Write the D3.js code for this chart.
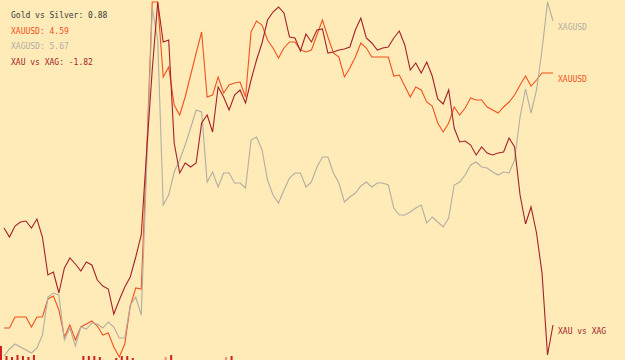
<!DOCTYPE html>
<html>
<head>
<meta charset="utf-8">
<script src="https://cdn.jsdelivr.net/npm/d3@7"></script>
<style>
  html, body { margin: 0; padding: 0; background: #feebb8; }
  svg { display: block; }
</style>
</head>
<body>
<script>
// scaled values (0 = bottom of window, 360 = top), one per trading day
var xauxag = [132,123,134,138,139,132,141,123,85,88,
  67,92,102,96,89,98,95,80,74,71,
  46,60,73,83,103,125,210,290,358,318,
  320,217,187,197,193,197,237,245,228,273,
  263,250,265,270,257,280,300,317,340,348,
  353,347,323,322,309,326,318,330,331,307,
  308,310,311,313,330,342,322,317,310,312,
  313,322,329,315,290,297,287,298,284,261,
  256,270,232,218,219,215,205,213,207,205,
  207,208,222,213,165,136,153,127,87,5,35]
var xauusd = [32,32,43,43,43,33,43,43,61,64,
  50,23,35,20,33,36,39,34,25,27,
  13,3,16,54,72,71,210,358,358,283,
  293,255,245,263,285,307,328,263,265,283,
  267,275,277,278,263,328,339,335,320,312,
  302,312,318,318,310,308,310,325,340,323,
  307,303,283,292,303,317,312,303,303,303,
  303,284,285,274,263,273,270,258,254,237,
  228,237,253,245,252,262,260,260,253,250,
  247,253,258,265,275,284,274,280,287,287,287]
var xagusd = [4,11,16,13,10,7,12,25,63,67,
  65,20,32,14,33,31,37,36,32,38,
  33,22,22,55,63,45,195,352,320,155,
  165,188,200,215,232,250,248,178,188,173,
  187,187,177,177,172,220,223,210,180,165,
  157,170,182,187,187,173,178,193,203,203,
  187,177,158,163,167,174,178,173,177,177,
  175,152,145,145,148,152,155,137,143,138,
  133,142,175,178,185,195,198,193,192,188,
  185,188,187,200,243,271,247,270,310,358,339]
// small spread bars along the bottom (index, value)
var spreadIdx = [0,1,2,3,4,5,6,15,16,17,18,21,22,23,24,30,31,41,42]
var spreadVal = [14,4,3,5,4,3,5,4,4,4,3,2,4,4,2,-3,5,-3,4]

var seriesNames = ["XAUUSD", "XAGUSD", "XAU vs XAG"]
var seriesColors = ["#f2521f", "#b3ada3", "#a3222a"]
var statLabels = ["Gold vs Silver: 0.88", "XAUUSD: 4.59", "XAGUSD: 5.67", "XAU vs XAG: -1.82"]
var statColors = ["#3a3a3a", "#f2521f", "#b3ada3", "#a3222a"]

var width = 625, height = 360

var svg = d3.select("body").append("svg")
  .attr("width", width)
  .attr("height", height)

svg.append("rect").attr("width", width).attr("height", height).attr("fill", "#feebb8")

var x = d3.scaleLinear().domain([0, xauusd.length - 1]).range([4, 553])
var y = d3.scaleLinear().domain([0, 360]).range([height, 0])
var barH = d3.scaleLinear().domain([0, 14]).range([0, 14])

// bottom bars
svg.selectAll("rect.bar").data(spreadIdx).enter()
  .append("rect")
  .attr("class", "bar")
  .attr("x", function (d) { return x(d) - 4 })
  .attr("width", 2)
  .attr("y", function (d, i) { return height - barH(Math.abs(spreadVal[i])) })
  .attr("height", function (d, i) { return barH(Math.abs(spreadVal[i])) })
  .attr("fill", function (d, i) { return spreadVal[i] < 0 ? "#e8906c" : "#d01f1f" })

var line = d3.line()
  .x(function (d, i) { return x(i) })
  .y(function (d) { return y(d) })

var data = [xauusd, xagusd, xauxag]

svg.selectAll("path.series").data(data).enter()
  .append("path")
  .attr("class", "series")
  .attr("fill", "none")
  .attr("stroke", function (d, i) { return seriesColors[i] })
  .attr("stroke-width", 1.1)
  .attr("d", line)

// end labels
svg.selectAll("text.end").data(data).enter()
  .append("text")
  .attr("class", "end")
  .attr("x", x(xauusd.length - 1) + 5)
  .attr("y", function (d) { return y(d[d.length - 1]) + 9 })
  .attr("fill", function (d, i) { return seriesColors[i] })
  .style("font-family", "'DejaVu Sans Mono', monospace")
  .style("font-size", "8px")
  .text(function (d, i) { return seriesNames[i] })

// stats block
svg.selectAll("text.stat").data(statLabels).enter()
  .append("text")
  .attr("class", "stat")
  .attr("x", 11)
  .attr("y", function (d, i) { return 18 + i * 15.6 })
  .attr("fill", function (d, i) { return statColors[i] })
  .style("font-family", "'DejaVu Sans Mono', monospace")
  .style("font-size", "8px")
  .text(function (d) { return d })
</script>
</body>
</html>
